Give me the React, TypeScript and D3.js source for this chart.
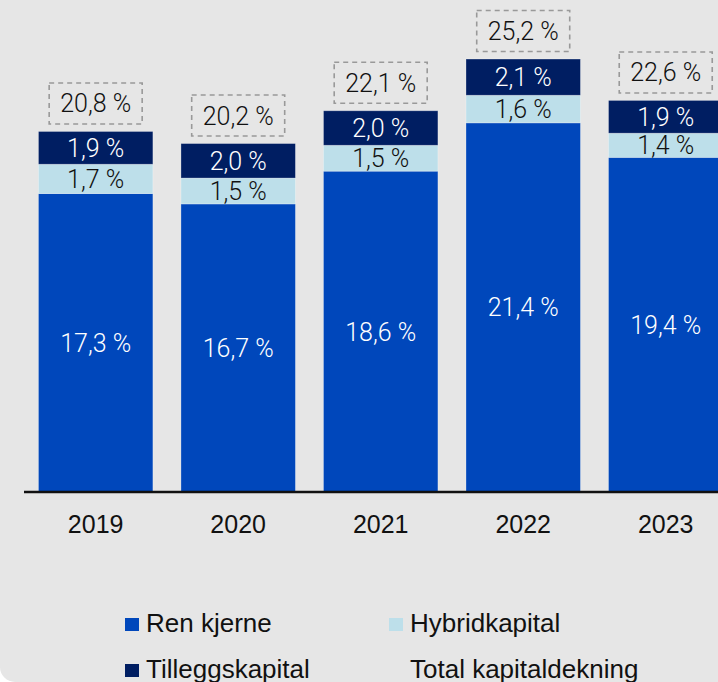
import React from "react";
import * as d3 from "d3";

const years = ["2019", "2020", "2021", "2022", "2023"];
const renKjerne = [17.3, 16.7, 18.6, 21.4, 19.4];
const hybridkapital = [1.7, 1.5, 1.5, 1.6, 1.4];
const tilleggskapital = [1.9, 2.0, 2.0, 2.1, 1.9];
const totalKapitaldekning = [20.8, 20.2, 22.1, 25.2, 22.6];
const seriesNames = ["Ren kjerne", "Hybridkapital", "Tilleggskapital", "Total kapitaldekning"];

const W = 718;
const H = 682;
const COLORS = { ren: "#0047BB", hyb: "#BDDFEA", til: "#001E62" };
const fmt = (v: number) => v.toFixed(1).replace(".", ",") + " %";
const LABEL_FONT = "Roboto, 'Liberation Sans', sans-serif";
const TEXT_FONT = "'Liberation Sans', Arial, sans-serif";

export default function App() {
  const baseY = 492;
  const y = d3.scaleLinear().domain([0, 28]).range([baseY, baseY - 28 * 17.25]);
  const x = d3
    .scaleBand<string>()
    .domain(years)
    .range([24.2, 737.2])
    .paddingInner(0.197)
    .paddingOuter(0.1);

  const rows = years.map((yr, i) => ({
    year: yr,
    ren: renKjerne[i],
    hyb: hybridkapital[i],
    til: tilleggskapital[i],
    total: totalKapitaldekning[i],
  }));
  const stack = d3.stack<any>().keys(["ren", "hyb", "til"])(rows);
  const textColors: Record<string, string> = { ren: "#ffffff", hyb: "#111111", til: "#ffffff" };

  const bw = x.bandwidth();

  return (
    <div style={{ position: "fixed", left: 0, top: 0 }}>
      <svg width={W} height={H} style={{ display: "block", background: "#ffffff" }}>
        <rect x={0} y={-100} width={W + 100} height={H + 100} rx={15} ry={15} fill="#E6E6E6" />
        {stack.map((layer) => (
          <g key={layer.key}>
            {layer.map((d, i) => {
              const x0 = x(years[i]) as number;
              const top = y(d[1]);
              const bot = y(d[0]);
              return (
                <g key={i}>
                  <rect
                    x={x0}
                    y={top}
                    width={bw}
                    height={bot - top}
                    fill={(COLORS as any)[layer.key]}
                    stroke="#ffffff"
                    strokeOpacity={0.35}
                    strokeWidth={0.8}
                  />
                  <text
                    x={x0 + bw / 2}
                    y={(top + bot) / 2}
                    dy="0.36em"
                    textAnchor="middle"
                    fontFamily={LABEL_FONT}
                    fontWeight={300}
                    fontSize={25}
                    fill={textColors[layer.key]}
                  >
                    {fmt(d[1] - d[0])}
                  </text>
                </g>
              );
            })}
          </g>
        ))}
        {rows.map((r, i) => {
          const top = y(r.ren + r.hyb + r.til);
          const cx = (x(r.year) as number) + bw / 2;
          const bh = 41;
          const bwid = 93;
          const by = top - 7.5 - bh;
          return (
            <g key={r.year}>
              <rect
                x={cx - bwid / 2}
                y={by}
                width={bwid}
                height={bh}
                fill="none"
                stroke="#999999"
                strokeWidth={1.6}
                strokeDasharray="5,4"
              />
              <text
                x={cx}
                y={by + bh / 2}
                dy="0.36em"
                textAnchor="middle"
                fontFamily={LABEL_FONT}
                fontWeight={300}
                fontSize={25}
                fill="#111111"
              >
                {fmt(r.total)}
              </text>
            </g>
          );
        })}
        <line x1={24} x2={W} y1={baseY} y2={baseY} stroke="#111111" strokeWidth={2.5} />
        {years.map((yr) => (
          <text
            key={yr}
            x={(x(yr) as number) + bw / 2}
            y={533}
            textAnchor="middle"
            fontFamily={TEXT_FONT}
            fontSize={25}
            fill="#111111"
          >
            {yr}
          </text>
        ))}
        {/* legend */}
        <g fontFamily={TEXT_FONT} fontSize={26} fill="#111111">
          <rect x={125} y={618} width={14} height={13} fill={COLORS.ren} />
          <text x={146} y={632}>{seriesNames[0]}</text>
          <rect x={389} y={618} width={14} height={13} fill={COLORS.hyb} />
          <text x={410} y={632}>{seriesNames[1]}</text>
          <rect x={125} y={664} width={14} height={13} fill={COLORS.til} />
          <text x={146} y={678}>{seriesNames[2]}</text>
          <text x={410} y={678}>{seriesNames[3]}</text>
        </g>
      </svg>
    </div>
  );
}
